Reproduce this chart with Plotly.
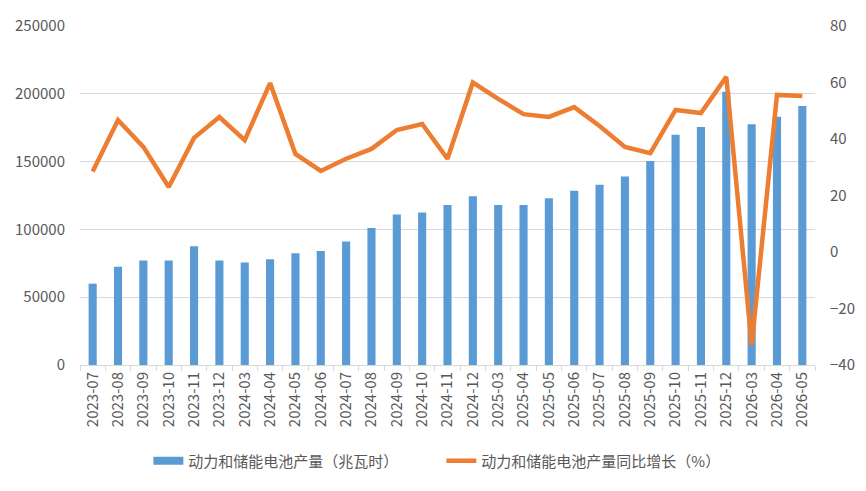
import plotly.graph_objects as go

months = ["2023-07","2023-08","2023-09","2023-10","2023-11","2023-12",
          "2024-03","2024-04","2024-05","2024-06","2024-07","2024-08","2024-09","2024-10","2024-11","2024-12",
          "2025-03","2025-04","2025-05","2025-06","2025-07","2025-08","2025-09","2025-10","2025-11","2025-12",
          "2026-03","2026-04","2026-05"]
output_gwh = [60000, 72500, 77000, 77000, 87500, 77000,
              75500, 78000, 82500, 84000, 91000, 101000, 111000, 112500, 118000, 124500,
              118000, 118000, 123000, 128500, 133000, 139000, 150500, 169800, 175500, 201500,
              177500, 183000, 191000]
yoy_pct = [28.5, 46.7, 37.2, 23.0, 40.4, 47.8,
           39.6, 59.8, 34.7, 28.7, 33.0, 36.5, 43.2, 45.3, 33.0, 60.0,
           54.2, 48.8, 47.8, 51.3, 44.6, 37.2, 35.0, 50.3, 49.2, 62.0,
           -33.0, 55.6, 55.2]

bar_name = "动力和储能电池产量（兆瓦时）"
line_name = "动力和储能电池产量同比增长（%）"

font_family = "Noto Sans CJK SC, Noto Sans, sans-serif"
tick_color = "#595959"
bar_color = "#5B9BD5"
line_color = "#ED7D31"

fig = go.Figure()
fig.add_trace(go.Bar(x=months, y=output_gwh, name=bar_name, showlegend=False,
                     marker=dict(color=bar_color, line=dict(width=0)), yaxis="y"))
# legend-only entry showing a wide rectangle like the reference
fig.add_trace(go.Scatter(x=[months[0]], y=[None], name=bar_name, mode="lines",
                         line=dict(color=bar_color, width=8), yaxis="y"))
fig.add_trace(go.Scatter(x=months, y=yoy_pct, name=line_name, mode="lines",
                         line=dict(color=line_color, width=4.5), yaxis="y2"))

fig.update_layout(
    width=866, height=491,
    margin=dict(l=80, r=51, t=26, b=126, autoexpand=False),
    paper_bgcolor="white", plot_bgcolor="white",
    font=dict(family=font_family, size=15, color=tick_color),
    bargap=0.68,
    showlegend=True,
    legend=dict(orientation="h", x=0.093, xanchor="left",
                y=-0.283, yanchor="middle",
                font=dict(size=15, color=tick_color),
                entrywidth=248, entrywidthmode="pixels",
                traceorder="normal"),
    xaxis=dict(type="category", tickangle=-90, showgrid=False,
               tickmode="array", tickvals=months, ticktext=months,
               showline=True, linecolor="#D9D9D9", linewidth=1,
               ticks="outside", tickson="boundaries", ticklen=5, tickcolor="#D9D9D9",
               tickfont=dict(size=15, color=tick_color)),
    yaxis=dict(range=[0, 250000], dtick=50000, showgrid=True, gridcolor="#D9D9D9",
               gridwidth=1, zeroline=False, showline=False, ticks="",
               tickformat="d", ticklabelstandoff=14,
               tickfont=dict(size=15, color=tick_color)),
    yaxis2=dict(range=[-40, 80], dtick=20, overlaying="y", side="right", showgrid=False,
                zeroline=False, showline=False, ticks="", ticklabelstandoff=14,
                tickfont=dict(size=15, color=tick_color)),
)

fig.write_html("out.html")
